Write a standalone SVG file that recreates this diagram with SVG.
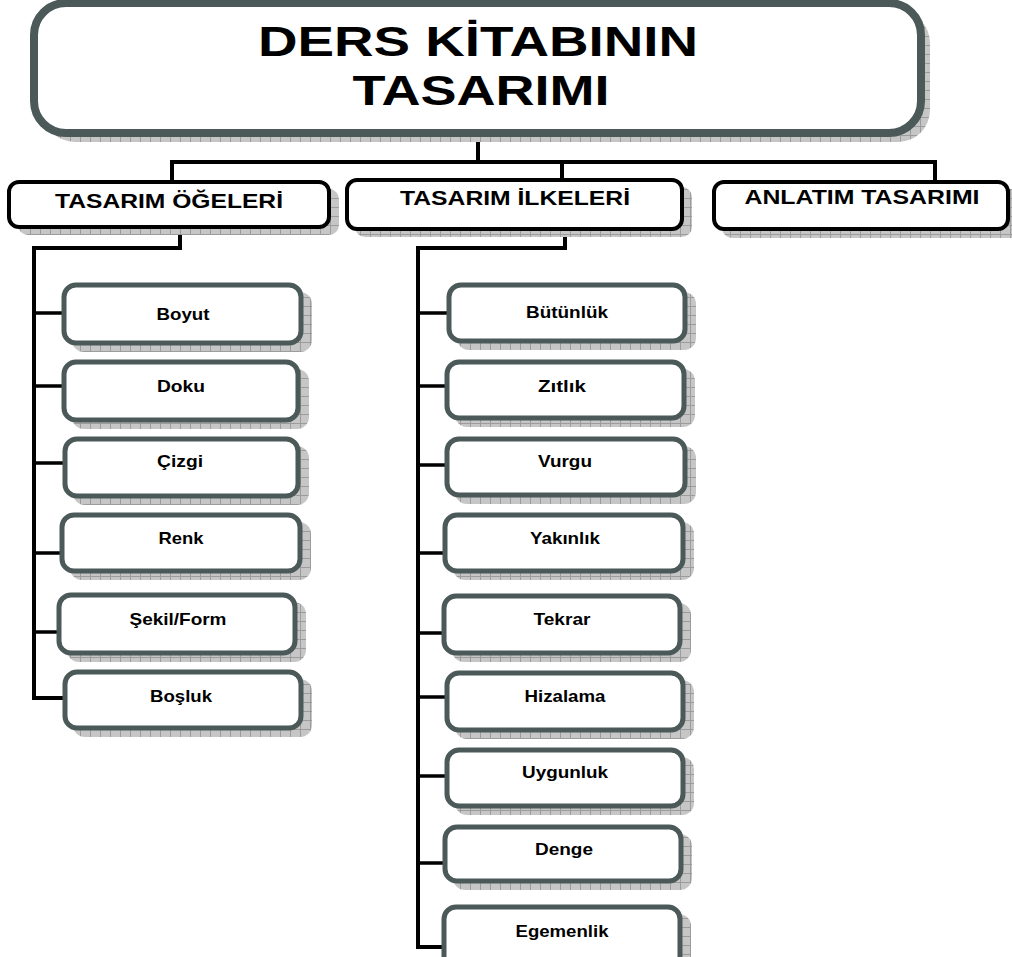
<svg xmlns="http://www.w3.org/2000/svg" width="1012" height="957" viewBox="0 0 1012 957">
<defs>
<pattern id="grid" width="10" height="9" patternUnits="userSpaceOnUse">
<rect width="10" height="9" fill="#c6c6c6"/>
<path d="M0.5 0V9M0 0.5H10" stroke="#9c9c9c" stroke-width="1" fill="none"/>
</pattern>
</defs>
<style>
.sh{fill:url(#grid)}
.title{fill:#fff;stroke:#4b5959;stroke-width:8}
.l1{fill:#fff;stroke:#000;stroke-width:4}
.ch{fill:#fff;stroke:#4b5959;stroke-width:5}
text{font-family:"Liberation Sans",Arial,sans-serif;font-weight:bold;fill:#000;text-anchor:middle}
.tt{font-size:42px}
.t1{font-size:21px}
.tc{font-size:16.5px}
.con{fill:none;stroke:#000;stroke-width:4;stroke-linejoin:miter}
.stub{fill:none;stroke:#000;stroke-width:3.5}
</style>
<rect width="1012" height="957" fill="#fff"/>

<g id="connectors">
<path class="con" d="M478 135V162M172 180V162H935V180M562 162V178"/>
<path class="con" d="M180 228V248H34V698H63"/>
<path class="con" d="M565 230V248H418V947H442"/>
<path class="stub" d="M34 313H63M34 386H63M34 463H63M34 553H60M34 632H57"/>
<path class="stub" d="M418 313H447M418 386H445M418 465H445M418 553H443M418 633H442M418 697H445M418 776H445M418 863H443"/>
</g>

<g id="title">
<rect class="sh" x="43" y="11" width="887" height="131" rx="32"/>
<rect class="title" x="34" y="3" width="887" height="130" rx="32"/>
<text class="tt" x="478" y="56" textLength="440" lengthAdjust="spacingAndGlyphs">DERS KİTABININ</text>
<text class="tt" x="481" y="105" textLength="257" lengthAdjust="spacingAndGlyphs">TASARIMI</text>
</g>

<g id="n-ogeler">
<rect class="sh" x="18" y="189" width="321" height="46" rx="10"/>
<rect class="l1" x="9" y="182" width="320" height="45" rx="10"/>
<text class="t1" x="169" y="208" textLength="228" lengthAdjust="spacingAndGlyphs">TASARIM ÖĞELERİ</text>
</g>
<g id="n-ilkeler">
<rect class="sh" x="355" y="187" width="337" height="50" rx="10"/>
<rect class="l1" x="347" y="180" width="335" height="49" rx="10"/>
<text class="t1" x="515" y="205" textLength="230" lengthAdjust="spacingAndGlyphs">TASARIM İLKELERİ</text>
</g>
<g id="n-anlatim">
<rect class="sh" x="722" y="189" width="300" height="49" rx="10"/>
<rect class="l1" x="714" y="182" width="294" height="47" rx="10"/>
<text class="t1" x="862" y="204" textLength="235" lengthAdjust="spacingAndGlyphs">ANLATIM TASARIMI</text>
</g>

<g id="n-boyut">
<rect class="sh" x="72" y="292" width="240" height="60" rx="12"/>
<rect class="ch" x="64" y="285" width="237" height="58" rx="12"/>
<text class="tc" x="183" y="320" textLength="53" lengthAdjust="spacingAndGlyphs">Boyut</text>
</g>
<g id="n-doku">
<rect class="sh" x="72" y="369" width="237" height="60" rx="12"/>
<rect class="ch" x="64" y="362" width="234" height="58" rx="12"/>
<text class="tc" x="181" y="392" textLength="48" lengthAdjust="spacingAndGlyphs">Doku</text>
</g>
<g id="n-cizgi">
<rect class="sh" x="73" y="446" width="236" height="59" rx="12"/>
<rect class="ch" x="65" y="439" width="233" height="57" rx="12"/>
<text class="tc" x="180" y="467" textLength="46" lengthAdjust="spacingAndGlyphs">Çizgi</text>
</g>
<g id="n-renk">
<rect class="sh" x="70" y="522" width="241" height="58" rx="12"/>
<rect class="ch" x="62" y="515" width="238" height="56" rx="12"/>
<text class="tc" x="181" y="544" textLength="45" lengthAdjust="spacingAndGlyphs">Renk</text>
</g>
<g id="n-sekil">
<rect class="sh" x="67" y="602" width="239" height="60" rx="12"/>
<rect class="ch" x="59" y="595" width="236" height="58" rx="12"/>
<text class="tc" x="178" y="625" textLength="97" lengthAdjust="spacingAndGlyphs">Şekil/Form</text>
</g>
<g id="n-bosluk">
<rect class="sh" x="73" y="679" width="239" height="58" rx="12"/>
<rect class="ch" x="65" y="672" width="236" height="56" rx="12"/>
<text class="tc" x="181" y="702" textLength="62" lengthAdjust="spacingAndGlyphs">Boşluk</text>
</g>

<g id="n-butunluk">
<rect class="sh" x="457" y="292" width="239" height="58" rx="12"/>
<rect class="ch" x="449" y="285" width="236" height="56" rx="12"/>
<text class="tc" x="567" y="318" textLength="82" lengthAdjust="spacingAndGlyphs">Bütünlük</text>
</g>
<g id="n-zitlik">
<rect class="sh" x="455" y="369" width="240" height="58" rx="12"/>
<rect class="ch" x="447" y="362" width="237" height="56" rx="12"/>
<text class="tc" x="562" y="392" textLength="48" lengthAdjust="spacingAndGlyphs">Zıtlık</text>
</g>
<g id="n-vurgu">
<rect class="sh" x="455" y="446" width="241" height="58" rx="12"/>
<rect class="ch" x="447" y="439" width="238" height="56" rx="12"/>
<text class="tc" x="565" y="467" textLength="54" lengthAdjust="spacingAndGlyphs">Vurgu</text>
</g>
<g id="n-yakinlik">
<rect class="sh" x="453" y="522" width="241" height="58" rx="12"/>
<rect class="ch" x="445" y="515" width="238" height="56" rx="12"/>
<text class="tc" x="565" y="544" textLength="70" lengthAdjust="spacingAndGlyphs">Yakınlık</text>
</g>
<g id="n-tekrar">
<rect class="sh" x="452" y="603" width="239" height="59" rx="12"/>
<rect class="ch" x="444" y="596" width="236" height="57" rx="12"/>
<text class="tc" x="562" y="625" textLength="57" lengthAdjust="spacingAndGlyphs">Tekrar</text>
</g>
<g id="n-hizalama">
<rect class="sh" x="455" y="680" width="239" height="59" rx="12"/>
<rect class="ch" x="447" y="673" width="236" height="57" rx="12"/>
<text class="tc" x="565" y="702" textLength="81" lengthAdjust="spacingAndGlyphs">Hizalama</text>
</g>
<g id="n-uygunluk">
<rect class="sh" x="455" y="757" width="239" height="58" rx="12"/>
<rect class="ch" x="447" y="750" width="236" height="56" rx="12"/>
<text class="tc" x="565" y="778" textLength="86" lengthAdjust="spacingAndGlyphs">Uygunluk</text>
</g>
<g id="n-denge">
<rect class="sh" x="453" y="834" width="239" height="56" rx="12"/>
<rect class="ch" x="445" y="827" width="236" height="54" rx="12"/>
<text class="tc" x="564" y="855" textLength="58" lengthAdjust="spacingAndGlyphs">Denge</text>
</g>
<g id="n-egemenlik">
<rect class="sh" x="452" y="914" width="239" height="70" rx="12"/>
<rect class="ch" x="444" y="907" width="236" height="70" rx="12"/>
<text class="tc" x="562" y="937" textLength="93" lengthAdjust="spacingAndGlyphs">Egemenlik</text>
</g>
</svg>
